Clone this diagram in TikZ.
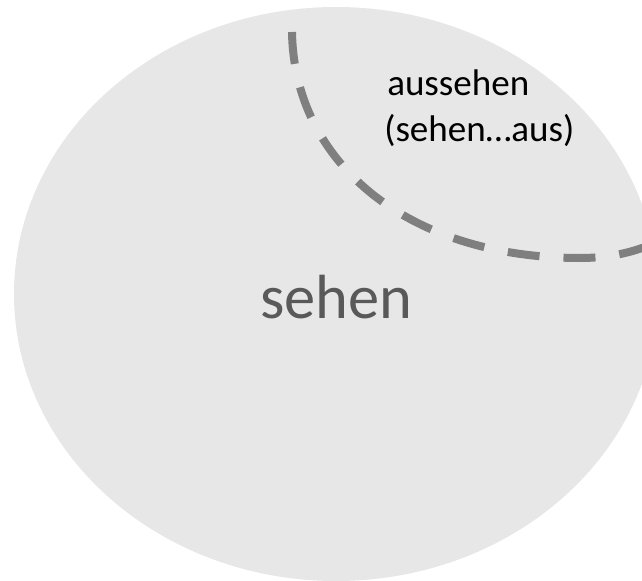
\documentclass[tikz,border=0pt]{standalone}
\usepackage{fontspec}
\setmainfont{Carlito}
\definecolor{setfill}{HTML}{E7E7E7}
\definecolor{dashgray}{HTML}{7F7F7F}
\definecolor{bigtext}{HTML}{595959}
\tikzset{
  setshape/.style={fill=setfill, draw=none},
  subsetline/.style={draw=dashgray, line width=6pt, dash pattern=on 24pt off 18pt, line cap=butt},
  smalllabel/.style={inner sep=0pt, anchor=base west, font=\fontsize{27.8pt}{33pt}\selectfont, text=black},
  biglabel/.style={inner sep=0pt, anchor=base west, font=\fontsize{46.8pt}{56pt}\selectfont, text=bigtext}
}
\begin{document}
\begin{tikzpicture}[x=0.75pt,y=-0.75pt]
\useasboundingbox (0,0) rectangle (642,581);
\begin{scope}
\clip (0,0) rectangle (642,581);
\path[setshape] (336,294) ellipse [x radius=322, y radius=287];
\coordinate (arcstart) at (292,32);
\coordinate (arcbottom) at (580,258);
\coordinate (arcend) at (665,238);
\draw[subsetline] (arcstart) .. controls (294,162) and (407,258) .. (arcbottom)
  .. controls (615,258) and (642,250) .. (arcend);
\end{scope}
\node[smalllabel] (aussehen) at (387,96) {aussehen};
\node[smalllabel] (sehenaus) at (384,142) {(sehen…aus)};
\node[biglabel] (sehen) at (260,318) {sehen};
\end{tikzpicture}
\end{document}
